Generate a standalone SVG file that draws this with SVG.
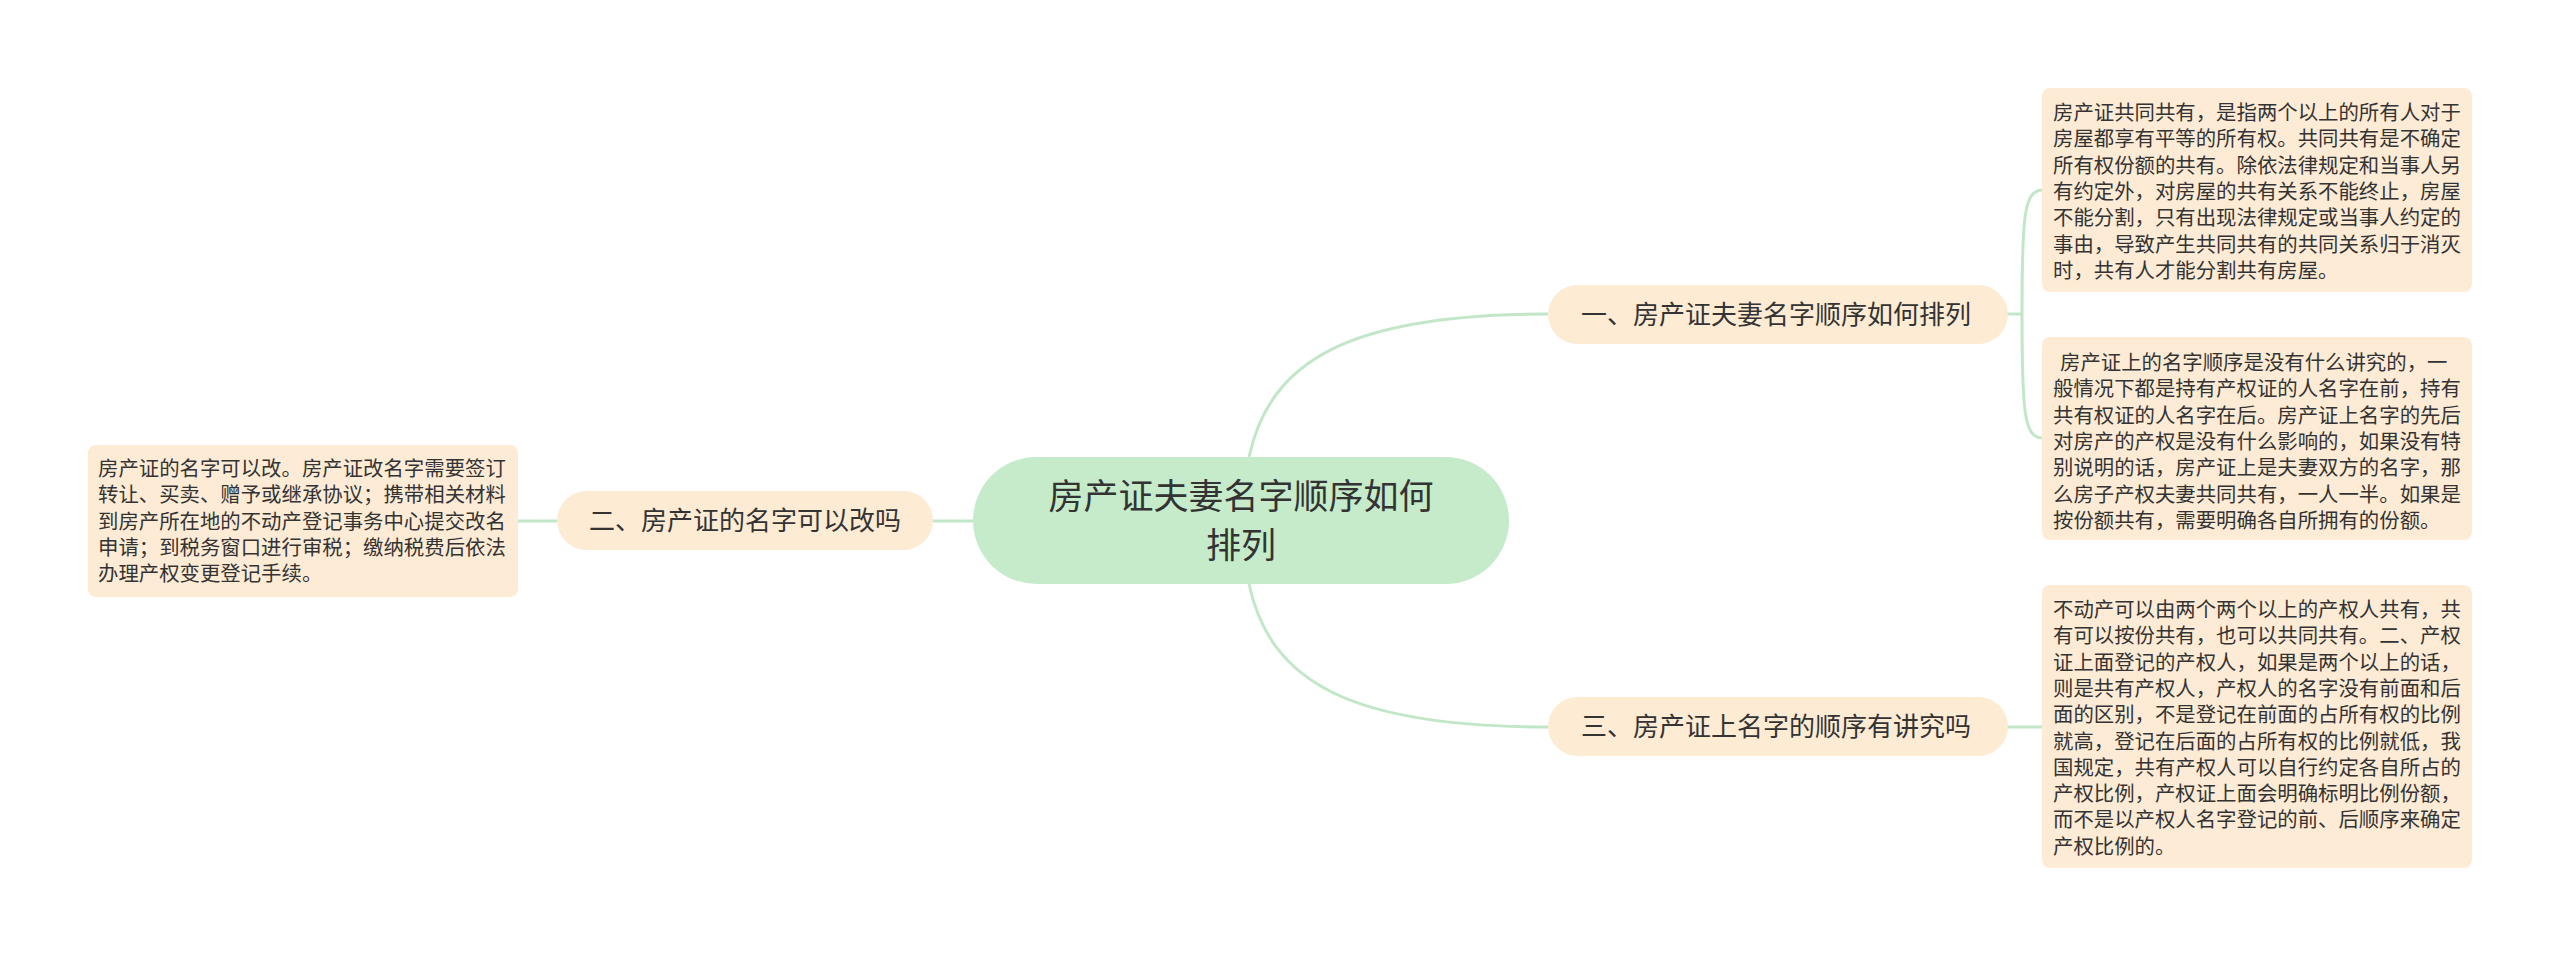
<svg xmlns="http://www.w3.org/2000/svg" width="2560" height="957" viewBox="0 0 2560 957">
<style>
text{font-family:"Noto Sans CJK SC","Noto Sans",sans-serif;fill:#333333}
.edge{fill:none;stroke:#c2e7c8;stroke-width:3}
.root{fill:#c5ebca}
.topic{fill:#fdebd4}
.leaf{fill:#fdebd5}
.t-root{font-size:35px}
.t-topic{font-size:26px}
.t-leaf{font-size:20.4px}
</style>
<rect x="0" y="0" width="2560" height="957" fill="#ffffff"/>
<g id="connectors">
<path class="edge" d="M1249 457 C1270 360 1350 314 1548 314"/>
<path class="edge" d="M1249 584 C1270 682 1350 727 1548 727"/>
<path class="edge" d="M973 521 L933 521"/>
<path class="edge" d="M557 521 L517 521"/>
<path class="edge" d="M2003 314 L2022 314"/>
<path class="edge" d="M2022 314 C2022 215 2024 190 2043 190"/>
<path class="edge" d="M2022 314 C2022 413 2024 438 2043 438"/>
<path class="edge" d="M2003 727 L2043 727"/>
</g>
<g id="root">
<rect class="root" x="973" y="457" width="536" height="127" rx="63.5"/>
<text class="t-root" text-anchor="middle"><tspan x="1241" y="509">房产证夫妻名字顺序如何</tspan><tspan x="1241" y="558">排列</tspan></text>
</g>
<g id="topic1">
<rect class="topic" x="1548" y="285" width="460" height="59" rx="29.5"/>
<text class="t-topic" text-anchor="middle" x="1776" y="324">一、房产证夫妻名字顺序如何排列</text>
</g>
<g id="topic2">
<rect class="topic" x="557" y="491" width="376" height="59" rx="29.5"/>
<text class="t-topic" text-anchor="middle" x="745" y="530">二、房产证的名字可以改吗</text>
</g>
<g id="topic3">
<rect class="topic" x="1548" y="697" width="460" height="59" rx="29.5"/>
<text class="t-topic" text-anchor="middle" x="1776" y="736">三、房产证上名字的顺序有讲究吗</text>
</g>
<g id="leaf1">
<rect class="leaf" x="2042" y="88" width="430" height="204" rx="8"/>
<text class="t-leaf">
<tspan x="2053" y="120">房产证共同共有，是指两个以上的所有人对于</tspan>
<tspan x="2053" y="146.3">房屋都享有平等的所有权。共同共有是不确定</tspan>
<tspan x="2053" y="172.6">所有权份额的共有。除依法律规定和当事人另</tspan>
<tspan x="2053" y="198.9">有约定外，对房屋的共有关系不能终止，房屋</tspan>
<tspan x="2053" y="225.2">不能分割，只有出现法律规定或当事人约定的</tspan>
<tspan x="2053" y="251.5">事由，导致产生共同共有的共同关系归于消灭</tspan>
<tspan x="2053" y="277.8">时，共有人才能分割共有房屋。</tspan>
</text>
</g>
<g id="leaf2">
<rect class="leaf" x="2042" y="337" width="430" height="203" rx="8"/>
<text class="t-leaf">
<tspan x="2060" y="370">房产证上的名字顺序是没有什么讲究的，一</tspan>
<tspan x="2053" y="396.3">般情况下都是持有产权证的人名字在前，持有</tspan>
<tspan x="2053" y="422.6">共有权证的人名字在后。房产证上名字的先后</tspan>
<tspan x="2053" y="448.9">对房产的产权是没有什么影响的，如果没有特</tspan>
<tspan x="2053" y="475.2">别说明的话，房产证上是夫妻双方的名字，那</tspan>
<tspan x="2053" y="501.5">么房子产权夫妻共同共有，一人一半。如果是</tspan>
<tspan x="2053" y="527.8">按份额共有，需要明确各自所拥有的份额。</tspan>
</text>
</g>
<g id="leaf3">
<rect class="leaf" x="2042" y="585" width="430" height="283" rx="8"/>
<text class="t-leaf">
<tspan x="2053" y="617">不动产可以由两个两个以上的产权人共有，共</tspan>
<tspan x="2053" y="643.3">有可以按份共有，也可以共同共有。二、产权</tspan>
<tspan x="2053" y="669.6">证上面登记的产权人，如果是两个以上的话，</tspan>
<tspan x="2053" y="695.9">则是共有产权人，产权人的名字没有前面和后</tspan>
<tspan x="2053" y="722.2">面的区别，不是登记在前面的占所有权的比例</tspan>
<tspan x="2053" y="748.5">就高，登记在后面的占所有权的比例就低，我</tspan>
<tspan x="2053" y="774.8">国规定，共有产权人可以自行约定各自所占的</tspan>
<tspan x="2053" y="801.1">产权比例，产权证上面会明确标明比例份额，</tspan>
<tspan x="2053" y="827.4">而不是以产权人名字登记的前、后顺序来确定</tspan>
<tspan x="2053" y="853.7">产权比例的。</tspan>
</text>
</g>
<g id="leaf0">
<rect class="leaf" x="88" y="445" width="430" height="152" rx="8"/>
<text class="t-leaf">
<tspan x="98" y="476">房产证的名字可以改。房产证改名字需要签订</tspan>
<tspan x="98" y="502.3">转让、买卖、赠予或继承协议；携带相关材料</tspan>
<tspan x="98" y="528.6">到房产所在地的不动产登记事务中心提交改名</tspan>
<tspan x="98" y="554.9">申请；到税务窗口进行审税；缴纳税费后依法</tspan>
<tspan x="98" y="581.2">办理产权变更登记手续。</tspan>
</text>
</g>
</svg>
